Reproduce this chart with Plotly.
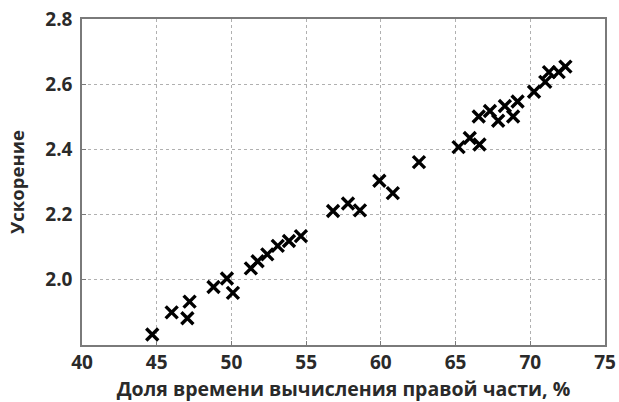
import plotly.graph_objects as go

x_share = [44.7, 46.0, 47.05, 47.2, 48.8, 49.7, 50.1, 51.3, 51.75, 52.4, 53.1, 53.85, 54.65,
           56.8, 57.8, 58.6, 59.9, 60.8, 62.55,
           65.2, 65.95, 66.6, 66.55, 67.3, 67.85, 68.3, 68.85, 69.15,
           70.25, 71.0, 71.25, 71.9, 72.35]
speedup = [1.832, 1.90, 1.882, 1.933, 1.978, 2.004, 1.960, 2.035, 2.057, 2.078, 2.104, 2.119, 2.134,
           2.211, 2.234, 2.213, 2.304, 2.266, 2.361,
           2.407, 2.435, 2.415, 2.501, 2.518, 2.488, 2.533, 2.501, 2.547,
           2.577, 2.607, 2.637, 2.637, 2.654]

x_ticks = [40, 45, 50, 55, 60, 65, 70, 75]
y_ticks = [2.0, 2.2, 2.4, 2.6, 2.8]
y_tick_text = ["2.0", "2.2", "2.4", "2.6", "2.8"]

fig = go.Figure(go.Scatter(
    x=x_share, y=speedup, mode="markers",
    marker=dict(symbol="x-thin", size=12, color="black",
                line=dict(color="black", width=3.4)),
    showlegend=False,
))

font_fam = "Open Sans"
txt_col = "#2a2a2a"
axis_common = dict(
    showline=True, mirror=True, linecolor="#7a7a7a", linewidth=1.5,
    ticks="inside", ticklen=4, tickcolor="#7a7a7a",
    showgrid=True, gridcolor="#b0b0b0", griddash="dot", gridwidth=1,
    zeroline=False, automargin=False, ticklabeloverflow="allow",
    tickfont=dict(family=font_fam, size=19, color=txt_col, weight=700),
)

fig.update_xaxes(range=[40, 75], tickvals=x_ticks, ticklabelstandoff=-1, **axis_common,
                 title=dict(text="Доля времени вычисления правой части, %",
                            font=dict(family=font_fam, size=19.5, color=txt_col, weight=700),
                            standoff=8))
fig.update_yaxes(range=[1.8, 2.8], tickvals=y_ticks, ticktext=y_tick_text,
                 ticklabelstandoff=4, **axis_common,
                 title=dict(text="Ускорение",
                            font=dict(family=font_fam, size=18.5, color=txt_col, weight=700),
                            standoff=16))

fig.update_layout(
    width=619, height=402,
    margin=dict(l=82, r=14, t=19, b=57),
    paper_bgcolor="white", plot_bgcolor="white",
)

# remove the default 8px page margin so the figure fills the window exactly
fig.write_html("out.html", config={"displayModeBar": False},
               post_script="document.body.style.margin='0';document.body.style.overflow='hidden';")
